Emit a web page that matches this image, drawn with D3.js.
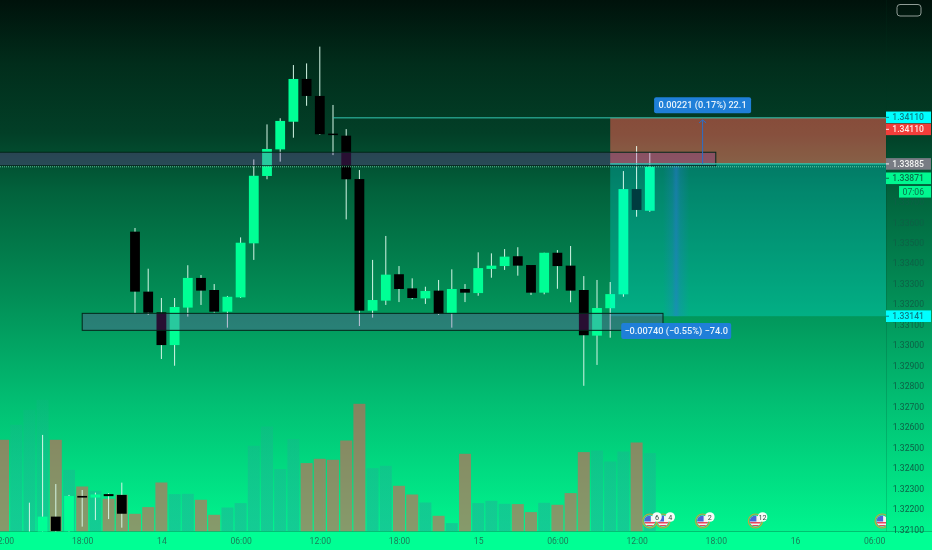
<!DOCTYPE html>
<html><head><meta charset="utf-8">
<script src="https://cdn.jsdelivr.net/npm/d3@7"></script>
<style>html,body{margin:0;padding:0;background:#00130c;overflow:hidden}svg{display:block}text{font-family:Roboto,sans-serif}</style>
</head><body><svg id="c" width="932" height="550"></svg>
<script>
const opens=[1.32067,1.32051,1.32162,1.32090,1.32263,1.32255,1.32272,1.32268,1.33554,1.33261,1.33160,1.33000,1.33183,1.33328,1.33269,1.33163,1.33233,1.33497,1.33826,1.33956,1.34091,1.34300,1.34217,1.34033,1.34023,1.33811,1.33168,1.33217,1.33346,1.33277,1.33228,1.33266,1.33157,1.33274,1.33254,1.33372,1.33386,1.33434,1.33391,1.33256,1.33451,1.33388,1.33269,1.33046,1.33180,1.33248,1.33762,1.33656];
const highs=[1.32230,1.32561,1.32321,1.32268,1.32292,1.32279,1.32277,1.32328,1.33572,1.33373,1.33230,1.33230,1.33390,1.33342,1.33298,1.33240,1.33526,1.33907,1.34078,1.34108,1.34368,1.34376,1.34458,1.34173,1.34055,1.33855,1.33416,1.33533,1.33386,1.33326,1.33285,1.33318,1.33370,1.33298,1.33453,1.33448,1.33469,1.33478,1.33391,1.33451,1.33464,1.33484,1.33337,1.33318,1.33308,1.33850,1.33972,1.33940];
const lows=[1.32050,1.32040,1.32080,1.32080,1.32113,1.32145,1.32150,1.32108,1.33157,1.33147,1.32932,1.32899,1.33139,1.33196,1.33158,1.33085,1.33230,1.33416,1.33810,1.33896,1.34013,1.34169,1.34027,1.33928,1.33614,1.33093,1.33134,1.33196,1.33210,1.33224,1.33201,1.33147,1.33085,1.33210,1.33241,1.33329,1.33367,1.33339,1.33245,1.33248,1.33275,1.33209,1.32801,1.32903,1.33036,1.33236,1.33627,1.33651];
const closes=[1.32075,1.32162,1.32092,1.32263,1.32255,1.32270,1.32262,1.32176,1.33261,1.33158,1.33000,1.33186,1.33328,1.33266,1.33163,1.33236,1.33500,1.33827,1.33958,1.34095,1.34300,1.34217,1.34030,1.34026,1.33810,1.33168,1.33220,1.33344,1.33274,1.33230,1.33264,1.33152,1.33274,1.33256,1.33376,1.33388,1.33432,1.33388,1.33256,1.33451,1.33386,1.33266,1.33048,1.33181,1.33249,1.33762,1.33660,1.33871];
const volumes=[917,1067,1217,1317,917,617,450,407,327,367,177,244,490,374,377,317,167,240,284,857,1050,624,924,684,727,717,910,1277,634,657,457,370,290,157,84,777,284,307,277,274,194,287,267,384,794,810,700,800,890,784];
const volumeUp=[0,1,1,1,0,1,0,1,0,0,0,0,0,1,1,0,0,1,1,1,1,1,1,0,0,0,0,0,1,1,0,0,1,0,1,0,1,1,1,0,0,1,0,0,0,1,1,1,0,1];
const priceTicks=[1.321,1.322,1.323,1.324,1.325,1.326,1.327,1.328,1.329,1.330,1.331,1.332,1.333,1.334,1.335,1.336,1.337];
const timeTickIdx=[-2,4,10,16,22,28,34,40,46,52,58,64];
const timeTickLabels=["12:00","18:00","14","06:00","12:00","18:00","15","06:00","12:00","18:00","16","06:00"];
const eventIdx=[47,48,51,55,64.6];
const eventCounts=["6","4","2","12",""];
const targetPrice=1.3411, entryPrice=1.33885, stopPrice=1.33141, lastPrice=1.33871;
const zoneA=[1.33942,1.33876], zoneB=[1.33155,1.33072];
const priceLabels=[
 {p:1.3411,t:"1.34110",bg:"#00ffff",fg:"#0b7d84",dy:-0.5},
 {p:1.3411,t:"1.34110",bg:"#f23d3a",fg:"#ffe9e4",dy:11.5},
 {p:1.33885,t:"1.33885",bg:"#787c84",fg:"#f2f4f2",dy:0},
 {p:1.33871,t:"1.33871",bg:"#00f890",fg:"#0a6e4a",dy:11.5},
 {p:1.33141,t:"1.33141",bg:"#00ffff",fg:"#0b7d84",dy:0}];

const W=932,H=550,plotR=886,plotB=531.5;
const svg=d3.select("#c");
const x=d3.scaleLinear().domain([0,47]).range([29.4,649.8]);
const y=d3.scaleLinear().domain([1.321,1.3411]).range([529.3,117.85]);
const v=d3.scaleLinear().domain([0,1350]).range([plotB,396.5]);
const idx=d3.range(opens.length);
const defs=svg.append("defs");
const g0=defs.append("linearGradient").attr("id","bg").attr("x1",0).attr("x2",0).attr("y1",0).attr("y2",1);
[[0,"#00120b"],[.12,"#012d1b"],[.25,"#023f27"],[.36,"#02623c"],[.55,"#028c55"],[.75,"#02bd72"],[1,"#00f58e"]].forEach(s=>g0.append("stop").attr("offset",s[0]).attr("stop-color",s[1]));
const g1=defs.append("linearGradient").attr("id","band");
[[0,0],[.35,.24],[.48,.5],[.52,.5],[.65,.24],[1,0]].forEach(s=>g1.append("stop").attr("offset",s[0]).attr("stop-color","#2a78d8").attr("stop-opacity",s[1]));
const g2=defs.append("linearGradient").attr("id","teal").attr("gradientUnits","userSpaceOnUse").attr("x1",0).attr("x2",0).attr("y1",396).attr("y2",plotB);
[[0,.1],[.4,.32],[1,.52]].forEach(s=>g2.append("stop").attr("offset",s[0]).attr("stop-color","#26a69a").attr("stop-opacity",s[1]));
defs.append("clipPath").attr("id","plot").append("rect").attr("width",plotR).attr("height",plotB);
defs.append("clipPath").attr("id","scale").append("rect").attr("width",plotR).attr("height",H);

svg.append("rect").attr("width",W).attr("height",plotB).attr("fill","url(#bg)");
svg.append("rect").attr("y",plotB).attr("width",W).attr("height",H-plotB).attr("fill","#00ff94");
svg.append("line").attr("x1",plotR+.5).attr("x2",plotR+.5).attr("y2",plotB).attr("stroke","#003a20").attr("stroke-opacity",.18);

const plot=svg.append("g").attr("clip-path","url(#plot)");
plot.append("g").selectAll("rect").data(volumes).join("rect")
 .attr("x",(d,i)=>x(i-2)-6).attr("width",12).attr("y",d=>v(d)).attr("height",d=>plotB-v(d))
 .attr("fill",(d,i)=>volumeUp[i]?"url(#teal)":"#ef5350").attr("fill-opacity",(d,i)=>volumeUp[i]?1:.56);

const cand=plot.append("g");
cand.selectAll("line").data(idx).join("line")
 .attr("x1",i=>x(i)).attr("x2",i=>x(i)).attr("y1",i=>y(highs[i])).attr("y2",i=>y(lows[i]))
 .attr("stroke","#d4f6e6").attr("stroke-width",1);
cand.selectAll("rect").data(idx).join("rect")
 .attr("x",i=>x(i)-4.9).attr("width",9.8)
 .attr("y",i=>y(Math.max(opens[i],closes[i])))
 .attr("height",i=>Math.max(1.5,Math.abs(y(opens[i])-y(closes[i]))))
 .attr("fill",i=>closes[i]>=opens[i]?"#00ff95":"#000");

const over=svg.append("g");
const screen=(sel)=>sel.style("mix-blend-mode","screen");
screen(over.append("rect").attr("x",x(44)).attr("width",plotR-x(44)).attr("y",y(targetPrice)).attr("height",y(entryPrice)-y(targetPrice)).attr("fill","#86161a"));
screen(over.append("rect").attr("x",x(44)).attr("width",plotR-x(44)).attr("y",y(entryPrice)).attr("height",y(stopPrice)-y(entryPrice)).attr("fill","#003c40"));
over.append("rect").attr("x",x(48)).attr("width",x(50)-x(48)).attr("y",y(entryPrice)).attr("height",y(stopPrice)-y(entryPrice)).attr("fill","url(#band)");
[zoneA,zoneB].forEach((z,k)=>{
 const x0=k?x(4):x(-4),x1=k?x(48):x(52);
 over.append("rect").attr("x",x0).attr("width",x1-x0).attr("y",y(z[0])).attr("height",y(z[1])-y(z[0])).attr("fill","#9437b9").attr("fill-opacity",.27);
 over.append("rect").attr("x",x0).attr("width",x1-x0).attr("y",y(z[0])).attr("height",y(z[1])-y(z[0])).attr("fill","none").attr("stroke","#04261a").attr("stroke-width",1);
});
over.append("line").attr("x1",x(23)).attr("x2",plotR).attr("y1",y(targetPrice)).attr("y2",y(targetPrice)).attr("stroke","#35c9b4").attr("stroke-width",1);
over.append("line").attr("x1",x(44)).attr("x2",plotR).attr("y1",y(entryPrice)).attr("y2",y(entryPrice)).attr("stroke","#2fc8b2").attr("stroke-width",1.4);
over.append("line").attr("x1",0).attr("x2",plotR).attr("y1",y(lastPrice)).attr("y2",y(lastPrice)).attr("stroke","#7fe8c0").attr("stroke-width",1).attr("stroke-dasharray","1 1").attr("stroke-opacity",.75);
const ax=x(51);
over.append("line").attr("x1",ax).attr("x2",ax).attr("y1",y(entryPrice)).attr("y2",y(targetPrice)+2).attr("stroke","#2a6fc8").attr("stroke-width",1);
over.append("path").attr("d",d3.line()([[ax-3.5,y(targetPrice)+5],[ax,y(targetPrice)+2],[ax+3.5,y(targetPrice)+5]])).attr("fill","none").attr("stroke","#2a6fc8");

// measure pills
[{c:x(51),yy:y(targetPrice)-20.7,w:97,t:"0.00221 (0.17%) 22.1"},{c:x(49),yy:y(stopPrice)+6.8,w:110,t:"\u22120.00740 (\u22120.55%) \u221274.0"}].forEach(l=>{
 svg.append("rect").attr("x",l.c-l.w/2).attr("y",l.yy).attr("width",l.w).attr("height",16).attr("rx",2).attr("fill","#1f7fd8");
 svg.append("text").attr("x",l.c).attr("y",l.yy+11.3).attr("text-anchor","middle").attr("fill","#e8f3fb").attr("font-size",9.2).attr("font-weight",500).text(l.t);
});

// axes
const xAxis=d3.axisBottom(x).tickValues(timeTickIdx).tickFormat((d,i)=>timeTickLabels[i]).tickSize(0).tickPadding(6.5);
const gx=svg.append("g").attr("transform",`translate(0,${plotB})`).call(xAxis);
gx.select(".domain").remove();
gx.selectAll("text").attr("fill","#1b7d58").attr("font-size",8.6).attr("font-family","Roboto");
const yAxis=d3.axisRight(y).tickValues(priceTicks).tickFormat(d3.format(".5f")).tickSize(0).tickPadding(38);
const gy=svg.append("g").attr("transform",`translate(${plotR},0)`).call(yAxis);
gy.select(".domain").remove();
gy.selectAll("text").attr("text-anchor","end").attr("fill","#0d6146").attr("font-size",8.6).attr("font-family","Roboto");

// price labels
priceLabels.forEach(l=>{
 const cy=y(l.p)+l.dy;
 svg.append("rect").attr("x",plotR).attr("y",cy-5.8).attr("width",45).attr("height",11.6).attr("fill",l.bg);
 svg.append("line").attr("x1",plotR).attr("x2",plotR+3).attr("y1",cy).attr("y2",cy).attr("stroke",l.fg);
 svg.append("text").attr("x",924).attr("y",cy+3.1).attr("text-anchor","end").attr("fill",l.fg).attr("font-size",8.6).attr("font-weight",500).text(l.t);
});
const cdY=y(lastPrice)+11.5+13.5;
svg.append("rect").attr("x",899).attr("y",cdY-5.8).attr("width",32).attr("height",11.6).attr("fill","#00f890");
svg.append("text").attr("x",924).attr("y",cdY+3.1).attr("text-anchor","end").attr("fill","#0a6e4a").attr("font-size",8.6).text("07:06");

// top-right button
svg.append("rect").attr("x",897).attr("y",4.5).attr("width",24).attr("height",11.5).attr("rx",3).attr("fill","none").attr("stroke","#8f9c96").attr("stroke-width",1);

// events (drawn right to left so each count badge sits on top of its neighbour)
const ev=svg.append("g").attr("clip-path","url(#scale)");
d3.range(eventIdx.length).reverse().forEach(i=>{
 const e=eventIdx[i],cx=x(e),cy=521,id="fl"+i;
 defs.append("clipPath").attr("id",id).append("circle").attr("cx",cx).attr("cy",cy).attr("r",5.6);
 const g=ev.append("g");
 g.append("circle").attr("cx",cx).attr("cy",cy).attr("r",7).attr("fill","#00e88a").attr("stroke","#c7a23e").attr("stroke-width",1.2);
 const f=g.append("g").attr("clip-path",`url(#${id})`);
 f.append("rect").attr("x",cx-6).attr("y",cy-6).attr("width",12).attr("height",12).attr("fill","#f6f2f4");
 [1,4].forEach(o=>f.append("rect").attr("x",cx-6).attr("y",cy+o).attr("width",12).attr("height",1.5).attr("fill","#e8485c"));
 f.append("rect").attr("x",cx-6).attr("y",cy-6).attr("width",7).attr("height",6.5).attr("fill","#4a66d8");
 if(eventCounts[i]){
  g.append("circle").attr("cx",cx+7.2).attr("cy",cy-4).attr("r",4.8).attr("fill","#f8faf8");
  g.append("text").attr("x",cx+7.2).attr("y",cy-1.4).attr("text-anchor","middle").attr("font-size",7.2).attr("fill","#2f4a40").text(eventCounts[i]);
 }
});
</script></body></html>
